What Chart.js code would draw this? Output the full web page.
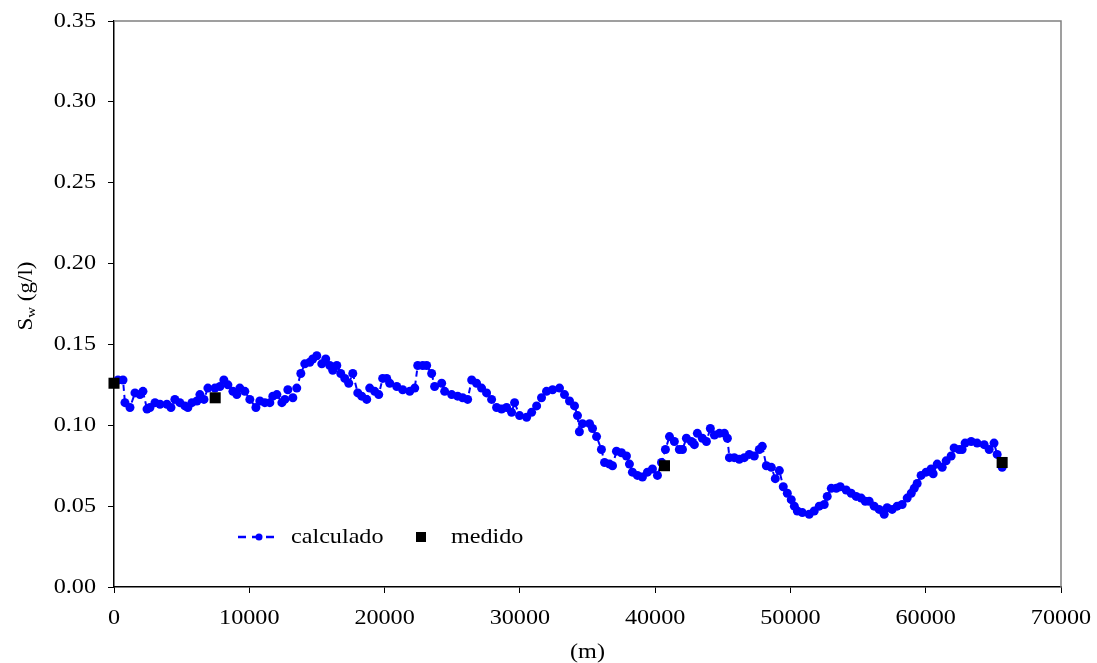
<!DOCTYPE html>
<html>
<head>
<meta charset="utf-8">
<script src="https://cdn.jsdelivr.net/npm/chart.js@4.4.1/dist/chart.umd.min.js"></script>
<style>
  body { margin: 0; background: #fff; }
  #wrap { width: 1097px; height: 663px; }
</style>
</head>
<body>
<div id="wrap"><canvas id="chart" width="1097" height="663"></canvas></div>
<script>
// distance along the river (m) and computed salinity (g/l)
const calcDist = [
  295, 665, 810, 1180, 1550, 1920, 2140, 2440, 2660, 3030, 3400, 3910, 4210, 4500, 4870, 5240,
  5460, 5760, 6130, 6350, 6650, 6940, 7460, 7830, 8120, 8420, 8790, 9080, 9300, 9670, 10040, 10490,
  10780, 11150, 11520, 11740, 12040, 12410, 12630, 12850, 13220, 13510, 13810, 14100, 14470, 14690, 14990, 15360,
  15650, 15950, 16170, 16470, 16760, 17060, 17350, 17650, 18020, 18310, 18680, 18900, 19270, 19570, 19860, 20160,
  20380, 20900, 21340, 21860, 22230, 22450, 22820, 23110, 23480, 23700, 24220, 24440, 24960, 25400, 25770, 26140,
  26440, 26800, 27170, 27540, 27910, 28280, 28650, 29020, 29390, 29610, 29980, 30500, 30870, 31240, 31600, 31970,
  32420, 32930, 33300, 33670, 34040, 34260, 34400, 34630, 35150, 35370, 35670, 36030, 36260, 36630, 36850, 37140,
  37510, 37880, 38100, 38320, 38690, 39060, 39430, 39800, 40170, 40470, 40760, 41060, 41420, 41790, 42020, 42310,
  42680, 42900, 43120, 43490, 43790, 44080, 44380, 44750, 45120, 45340, 45490, 45850, 46220, 46590, 46960, 47330,
  47700, 47920, 48220, 48590, 48880, 49180, 49470, 49770, 50060, 50290, 50510, 50880, 51390, 51760, 52130, 52500,
  52720, 53020, 53390, 53680, 54120, 54490, 54860, 55230, 55530, 55820, 56190, 56560, 56930, 57150, 57520, 57890,
  58260, 58630, 58930, 59150, 59370, 59660, 60030, 60400, 60550, 60850, 61220, 61510, 61880, 62100, 62470, 62690,
  62910, 63360, 63800, 64320, 64690, 65050, 65280, 65650
];
const calcSal = [
  0.128, 0.128, 0.114, 0.111, 0.120, 0.119, 0.121, 0.110, 0.111, 0.114, 0.113, 0.113, 0.111, 0.116, 0.114, 0.112,
  0.111, 0.114, 0.115, 0.119, 0.116, 0.123, 0.123, 0.124, 0.128, 0.125, 0.121, 0.119, 0.123, 0.121, 0.116, 0.111,
  0.115, 0.114, 0.114, 0.118, 0.119, 0.114, 0.116, 0.122, 0.117, 0.123, 0.132, 0.138, 0.139, 0.141, 0.143, 0.138,
  0.141, 0.137, 0.134, 0.137, 0.132, 0.129, 0.126, 0.132, 0.120, 0.118, 0.116, 0.123, 0.121, 0.119, 0.129, 0.129,
  0.126, 0.124, 0.122, 0.121, 0.123, 0.137, 0.137, 0.137, 0.132, 0.124, 0.126, 0.121, 0.119, 0.118, 0.117, 0.116,
  0.128, 0.126, 0.123, 0.120, 0.116, 0.111, 0.110, 0.111, 0.108, 0.114, 0.106, 0.105, 0.108, 0.112, 0.117, 0.121,
  0.122, 0.123, 0.119, 0.115, 0.112, 0.106, 0.096, 0.101, 0.101, 0.098, 0.093, 0.085, 0.077, 0.076, 0.075, 0.084,
  0.083, 0.081, 0.076, 0.071, 0.069, 0.068, 0.071, 0.073, 0.069, 0.077, 0.085, 0.093, 0.090, 0.085, 0.085, 0.092,
  0.090, 0.088, 0.095, 0.092, 0.090, 0.098, 0.094, 0.095, 0.095, 0.092, 0.080, 0.080, 0.079, 0.080, 0.082, 0.081,
  0.085, 0.087, 0.075, 0.074, 0.067, 0.072, 0.062, 0.058, 0.054, 0.050, 0.047, 0.046, 0.045, 0.047, 0.050, 0.051,
  0.056, 0.061, 0.061, 0.062, 0.060, 0.058, 0.056, 0.055, 0.053, 0.053, 0.050, 0.048, 0.045, 0.049, 0.048, 0.050,
  0.051, 0.055, 0.058, 0.061, 0.064, 0.069, 0.071, 0.073, 0.070, 0.076, 0.074, 0.078, 0.081, 0.086, 0.085, 0.085,
  0.089, 0.090, 0.089, 0.088, 0.085, 0.089, 0.082, 0.074
];
// measured salinity
const measDist = [0, 7480, 40690, 65650];
const measSal = [0.126, 0.117, 0.075, 0.077];

const serif = '"Liberation Serif", "Times New Roman", serif';
const SX = 1.15; // the original text is a bit wide, stretch it horizontally

function wideText(ctx, text, x, y, align) {
  const w = ctx.measureText(text).width * SX;
  let left = x;
  if (align === 'center') left = x - w / 2;
  if (align === 'right') left = x - w;
  ctx.save();
  ctx.translate(left, y);
  ctx.scale(SX, 1);
  ctx.textAlign = 'left';
  ctx.fillText(text, 0, 0);
  ctx.restore();
  return w;
}

// frame, tick labels, axis titles and legend
const extras = {
  id: 'extras',
  afterDraw(chart) {
    const ctx = chart.ctx;
    const a = chart.chartArea;
    const xs = chart.scales.x, ys = chart.scales.y;
    ctx.save();
    ctx.strokeStyle = '#808080';
    ctx.lineWidth = 1.5;
    ctx.beginPath();
    ctx.moveTo(a.left, a.top);
    ctx.lineTo(a.right, a.top);
    ctx.lineTo(a.right, a.bottom);
    ctx.stroke();

    ctx.fillStyle = '#000';
    ctx.textBaseline = 'middle';
    ctx.font = '21px ' + serif;
    ys.ticks.forEach(t => {
      wideText(ctx, t.value.toFixed(2), a.left - 18, ys.getPixelForValue(t.value), 'right');
    });
    xs.ticks.forEach(t => {
      wideText(ctx, String(t.value), xs.getPixelForValue(t.value), a.bottom + 31, 'center');
    });
    wideText(ctx, '(m)', (a.left + a.right) / 2, 652, 'center');

    // y title: S_w (g/l)
    ctx.translate(27, 296);
    ctx.rotate(-Math.PI / 2);
    ctx.font = '20px ' + serif;
    const w1 = ctx.measureText('S').width * SX;
    const w3 = ctx.measureText(' (g/l)').width * SX;
    ctx.font = '13px ' + serif;
    const w2 = ctx.measureText('w').width * SX;
    let x0 = -(w1 + w2 + w3) / 2;
    ctx.font = '20px ' + serif;
    wideText(ctx, 'S', x0, 0, 'left');
    ctx.font = '13px ' + serif;
    wideText(ctx, 'w', x0 + w1, 5, 'left');
    ctx.font = '20px ' + serif;
    wideText(ctx, ' (g/l)', x0 + w1 + w2, 0, 'left');
    ctx.restore();

    // legend
    ctx.save();
    const ly = 537;
    ctx.strokeStyle = '#0000ff';
    ctx.lineWidth = 2.5;
    ctx.setLineDash([8, 6]);
    ctx.beginPath();
    ctx.moveTo(238, ly);
    ctx.lineTo(278, ly);
    ctx.stroke();
    ctx.setLineDash([]);
    ctx.fillStyle = '#0000ff';
    ctx.beginPath();
    ctx.arc(259, ly, 3.5, 0, Math.PI * 2);
    ctx.fill();
    ctx.fillStyle = '#000';
    ctx.font = '21px ' + serif;
    ctx.textBaseline = 'middle';
    wideText(ctx, 'calculado', 291, ly, 'left');
    ctx.fillRect(416, ly - 5, 10, 10);
    wideText(ctx, 'medido', 451, ly, 'left');
    ctx.restore();
  }
};

new Chart(document.getElementById('chart'), {
  type: 'scatter',
  data: {
    datasets: [
      {
        label: 'medido',
        data: measDist.map((d, i) => ({ x: d, y: measSal[i] })),
        pointStyle: 'rect',
        pointRadius: 7.8,
        backgroundColor: '#000',
        borderColor: '#000',
        borderWidth: 0,
        clip: false,
        order: 0
      },
      {
        label: 'calculado',
        data: calcDist.map((d, i) => ({ x: d, y: calcSal[i] })),
        showLine: true,
        borderColor: '#0000ff',
        borderWidth: 2,
        borderDash: [6, 4],
        pointRadius: 4.5,
        pointBackgroundColor: '#0000ff',
        pointBorderWidth: 0,
        clip: false,
        order: 1
      }
    ]
  },
  options: {
    responsive: false,
    animation: false,
    layout: { padding: { top: 21, right: 36, left: 0, bottom: 0 } },
    plugins: { legend: { display: false }, tooltip: { enabled: false } },
    scales: {
      x: {
        type: 'linear',
        min: 0,
        max: 70000,
        afterFit(scale) { scale.height = 76; },
        ticks: { stepSize: 10000, display: false },
        grid: { drawOnChartArea: false, drawTicks: true, tickLength: 6, color: '#000' },
        border: { color: '#000', width: 1.5 }
      },
      y: {
        min: 0,
        max: 0.35,
        afterFit(scale) { scale.width = 114; },
        ticks: { stepSize: 0.05, display: false },
        grid: { drawOnChartArea: false, drawTicks: true, tickLength: 6, color: '#000' },
        border: { color: '#000', width: 1.5 }
      }
    }
  },
  plugins: [extras]
});
</script>
</body>
</html>
